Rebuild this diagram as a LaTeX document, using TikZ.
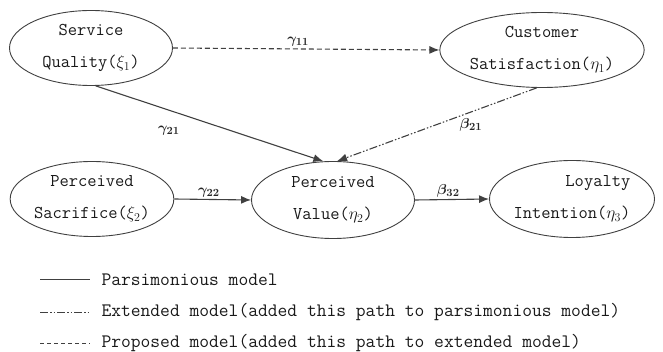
\documentclass[tikz,border=0pt]{standalone}
\usepackage{fontspec}
\usepackage{amsmath}
\usetikzlibrary{positioning,arrows.meta,shapes}
\tikzset{latent/.style={ellipse,draw=black!75,line width=0.9pt,inner sep=0pt,
        minimum width=163pt,minimum height=75pt,align=center,
        font=\ttfamily\fontsize{18}{32}\selectfont,text=black!90},
        effect/.style={->,draw=black!75,line width=1.1pt},
        coef/.style={font=\boldmath\fontsize{15}{15}\selectfont,text=black!85,inner sep=2pt},
        extended/.style={dash pattern=on 8pt off 2pt on 1.5pt off 2pt on 1.5pt off 2pt},
        proposed/.style={dash pattern=on 5pt off 3pt},
        legtext/.style={right,font=\ttfamily\fontsize{19}{19}\selectfont,text=black!90}}

\begin{document}
\begin{tikzpicture}[x=1pt,y=-1pt,>={Latex[length=10pt,width=8pt]}]
       \useasboundingbox (0,0) rectangle (663,352);
       % constructs
       \node[latent] (sq) at (91,48) {Service\\Quality($\xi_1$)};
       \node[latent] (cs) at (542,50) {Customer\\Satisfaction($\eta_1$)};
       \node[latent] (ps) at (92,199) {Perceived\\Sacrifice($\xi_2$)};
       \node[latent,minimum height=77pt] (pv) at (333,200) {Perceived\\Value($\eta_2$)};
       \node[latent,minimum height=77pt,align=right] (li) at (572,199) {Loyalty\\Intention($\eta_3$)};
       % paths
       \draw[effect,proposed] (sq.east) -- node[coef,above,pos=.47]{$\gamma_{11}$} (cs.west);
       \draw[effect] (sq.-83) -- node[coef,below left=9pt and 0pt,pos=.38]{$\gamma_{21}$} (pv.104);
       \draw[effect,extended] (cs.-98) -- node[coef,below=4pt,pos=.33]{$\beta_{21}$} (pv.84);
       \draw[effect] (ps.east) -- node[coef,above,pos=.45]{$\gamma_{22}$} (pv.west);
       \draw[effect] (pv.east) -- node[coef,above,pos=.45]{$\beta_{32}$} (li.west);
       % legend
       \node[legtext] (l1) at (98,280) {Parsimonious model};
       \node[legtext] (l2) at (98,312) {Extended model(added this path to parsimonious model)};
       \node[legtext] (l3) at (98,343) {Proposed model(added this path to extended model)};
       \draw[black!75,line width=1pt] ([xshift=-58pt]l1.west) -- ([xshift=-8pt]l1.west);
       \draw[black!75,line width=1pt,extended] ([xshift=-58pt]l2.west) -- ([xshift=-8pt]l2.west);
       \draw[black!75,line width=1pt,dash pattern=on 4pt off 3pt] ([xshift=-58pt]l3.west) -- ([xshift=-8pt]l3.west);
\end{tikzpicture}
\end{document}
